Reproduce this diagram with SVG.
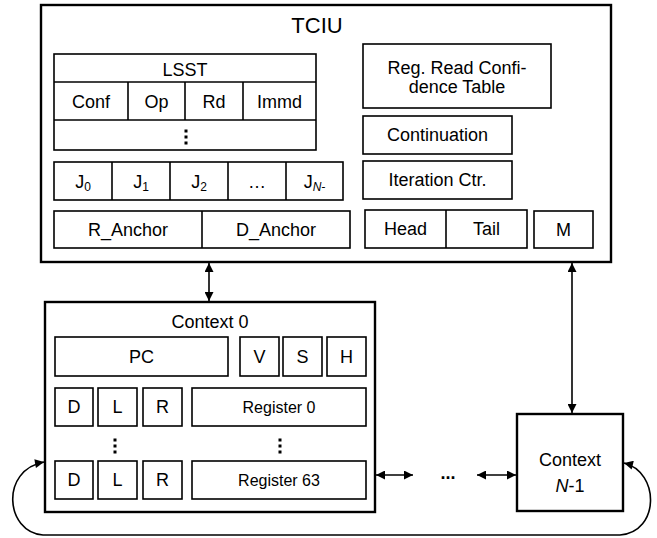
<svg xmlns="http://www.w3.org/2000/svg" width="657" height="538" viewBox="0 0 657 538">
<style>
text{font-family:"Liberation Sans",Arial,sans-serif;font-size:18px;fill:#000;text-anchor:middle}
.outer{fill:#fff;stroke:#000;stroke-width:2.4}
.cell{fill:#fff;stroke:#000;stroke-width:1.6}
.title{font-size:22px}
.reg{font-size:16px}
.conn{fill:none;stroke:#000;stroke-width:1.6}
.dot{fill:#000}
</style>
<defs>
<marker id="ah" viewBox="0 0 10 10" refX="10" refY="5" markerUnits="userSpaceOnUse" markerWidth="10" markerHeight="9" orient="auto-start-reverse">
<path d="M0,0 L10,5 L0,10 z" fill="#000"/>
</marker>
</defs>
<rect width="657" height="538" fill="#fff"/>

<g id="tciu">
<rect class="outer" x="41" y="5" width="570" height="257"/>
<text class="title" x="317" y="33">TCIU</text>
</g>

<g id="lsst">
<rect class="cell" x="54" y="54" width="262" height="96"/>
<line class="cell" x1="54" y1="82" x2="316" y2="82"/>
<line class="cell" x1="54" y1="120" x2="316" y2="120"/>
<line class="cell" x1="128" y1="82" x2="128" y2="120"/>
<line class="cell" x1="185" y1="82" x2="185" y2="120"/>
<line class="cell" x1="243" y1="82" x2="243" y2="120"/>
<text x="185" y="76">LSST</text>
<text x="91" y="108">Conf</text>
<text x="156.5" y="108">Op</text>
<text x="214" y="108">Rd</text>
<text x="279.5" y="108">Immd</text>
<rect class="dot" x="184.5" y="129.5" width="3" height="3"/>
<rect class="dot" x="184.5" y="135.5" width="3" height="3"/>
<rect class="dot" x="184.5" y="141.5" width="3" height="3"/>
</g>

<g id="jrow">
<rect class="cell" x="54" y="162" width="289" height="38"/>
<line class="cell" x1="112" y1="162" x2="112" y2="200"/>
<line class="cell" x1="170" y1="162" x2="170" y2="200"/>
<line class="cell" x1="228" y1="162" x2="228" y2="200"/>
<line class="cell" x1="286" y1="162" x2="286" y2="200"/>
<text x="83" y="188">J<tspan font-size="12" dy="3">0</tspan></text>
<text x="141" y="188">J<tspan font-size="12" dy="3">1</tspan></text>
<text x="199" y="188">J<tspan font-size="12" dy="3">2</tspan></text>
<text x="257" y="188">…</text>
<text x="314.5" y="188">J<tspan font-size="12" dy="3" font-style="italic">N-</tspan></text>
</g>

<g id="anchors">
<rect class="cell" x="54" y="211" width="296" height="37"/>
<line class="cell" x1="202" y1="211" x2="202" y2="248"/>
<text x="128" y="236">R_Anchor</text>
<text x="276" y="236">D_Anchor</text>
</g>

<g id="rrct">
<rect class="cell" x="363" y="44" width="188" height="64"/>
<text x="457" y="74">Reg. Read Confi-</text>
<text x="457" y="93">dence Table</text>
</g>

<g id="continuation">
<rect class="cell" x="363" y="116" width="149" height="38"/>
<text x="437.5" y="141">Continuation</text>
</g>

<g id="iterctr">
<rect class="cell" x="363" y="161" width="149" height="38"/>
<text x="437.5" y="186">Iteration Ctr.</text>
</g>

<g id="headtail">
<rect class="cell" x="365" y="210" width="162" height="38"/>
<line class="cell" x1="446" y1="210" x2="446" y2="248"/>
<text x="405.5" y="235">Head</text>
<text x="486.5" y="235">Tail</text>
</g>

<g id="m">
<rect class="cell" x="534" y="211" width="59" height="37"/>
<text x="563.5" y="236">M</text>
</g>

<g id="context0">
<rect class="outer" x="45" y="302" width="330" height="210"/>
<text x="210" y="328">Context 0</text>
<rect class="cell" x="55" y="337" width="173" height="39"/>
<text x="141.5" y="363">PC</text>
<rect class="cell" x="240" y="337" width="39" height="39"/>
<text x="259.5" y="363">V</text>
<rect class="cell" x="283" y="337" width="39" height="39"/>
<text x="302.5" y="363">S</text>
<rect class="cell" x="327" y="337" width="39" height="39"/>
<text x="346.5" y="363">H</text>
<rect class="cell" x="55" y="388" width="38" height="38"/>
<text x="74" y="413">D</text>
<rect class="cell" x="98" y="388" width="39" height="38"/>
<text x="117.5" y="413">L</text>
<rect class="cell" x="143" y="388" width="39" height="38"/>
<text x="162.5" y="413">R</text>
<rect class="cell" x="192" y="388" width="174" height="38"/>
<text class="reg" x="279" y="413">Register 0</text>
<rect class="dot" x="113.5" y="438.5" width="3" height="3"/>
<rect class="dot" x="113.5" y="444.5" width="3" height="3"/>
<rect class="dot" x="113.5" y="450.5" width="3" height="3"/>
<rect class="dot" x="278.5" y="438.5" width="3" height="3"/>
<rect class="dot" x="278.5" y="444.5" width="3" height="3"/>
<rect class="dot" x="278.5" y="450.5" width="3" height="3"/>
<rect class="cell" x="55" y="461" width="38" height="38"/>
<text x="74" y="486">D</text>
<rect class="cell" x="98" y="461" width="39" height="38"/>
<text x="117.5" y="486">L</text>
<rect class="cell" x="143" y="461" width="39" height="38"/>
<text x="162.5" y="486">R</text>
<rect class="cell" x="192" y="461" width="174" height="38"/>
<text class="reg" x="279" y="486">Register 63</text>
</g>

<g id="contextN1">
<rect class="outer" x="517" y="414" width="106" height="97"/>
<text x="570" y="466">Context</text>
<text x="570" y="492"><tspan font-style="italic">N</tspan>-1</text>
</g>

<g id="ellipsis">
<text x="448" y="479" font-weight="bold" font-size="24">...</text>
</g>

<g id="connectors">
<line class="conn" x1="209" y1="263" x2="209" y2="301" marker-start="url(#ah)" marker-end="url(#ah)"/>
<line class="conn" x1="572" y1="263" x2="572" y2="413" marker-start="url(#ah)" marker-end="url(#ah)"/>
<line class="conn" x1="376" y1="475" x2="413" y2="475" marker-start="url(#ah)" marker-end="url(#ah)"/>
<line class="conn" x1="477" y1="475" x2="516" y2="475" marker-start="url(#ah)" marker-end="url(#ah)"/>
<path class="conn" d="M624,463 C660,472 660,532 620,535 L43,535 C5,532 0,470 44,462" marker-start="url(#ah)" marker-end="url(#ah)"/>
</g>
</svg>
